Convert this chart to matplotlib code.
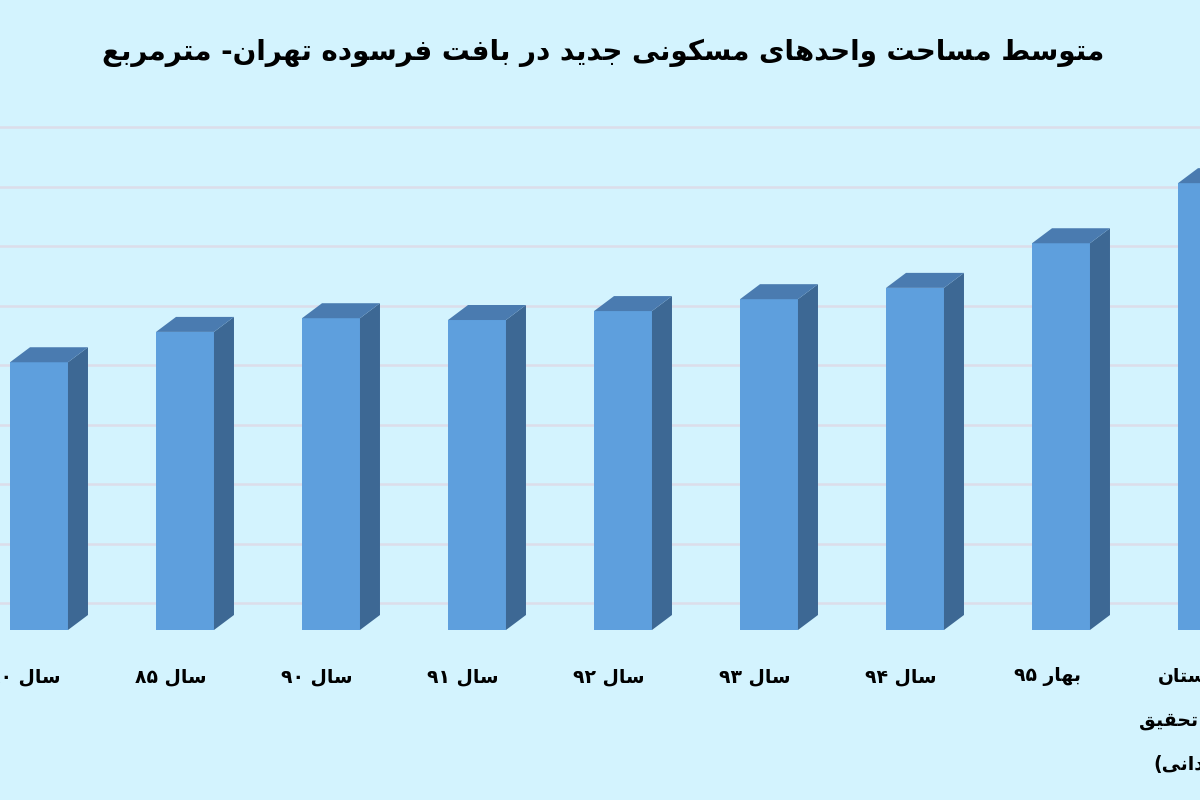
import re
import matplotlib
matplotlib.use('Agg')
import matplotlib.pyplot as plt
from matplotlib.patches import Polygon

# Data, average area in m2
labels = ['سال ۸۰', 'سال ۸۵', 'سال ۹۰', 'سال ۹۱', 'سال ۹۲', 'سال ۹۳', 'سال ۹۴', 'بهار ۹۵',
          'تابستان\nنتایج تحقیق\n(میدانی)']
values = [45.0, 50.1, 52.4, 52.1, 53.6, 55.6, 57.5, 65.0, 75.1]
grid_vals = [0, 10, 20, 30, 40, 50, 60, 70, 80]
title = 'متوسط مساحت واحدهای مسکونی جدید در بافت فرسوده تهران- مترمربع'

# minimal arabic/persian shaping: (isolated, final, initial, medial)
FORMS = {
    '\u0627': ('\uFE8D', '\uFE8E', None, None),
    '\u0628': ('\uFE8F', '\uFE90', '\uFE91', '\uFE92'),
    '\u062A': ('\uFE95', '\uFE96', '\uFE97', '\uFE98'),
    '\u062C': ('\uFE9D', '\uFE9E', '\uFE9F', '\uFEA0'),
    '\u062D': ('\uFEA1', '\uFEA2', '\uFEA3', '\uFEA4'),
    '\u062F': ('\uFEA9', '\uFEAA', None, None),
    '\u0631': ('\uFEAD', '\uFEAE', None, None),
    '\u0633': ('\uFEB1', '\uFEB2', '\uFEB3', '\uFEB4'),
    '\u0637': ('\uFEC1', '\uFEC2', '\uFEC3', '\uFEC4'),
    '\u0639': ('\uFEC9', '\uFECA', '\uFECB', '\uFECC'),
    '\u0641': ('\uFED1', '\uFED2', '\uFED3', '\uFED4'),
    '\u0642': ('\uFED5', '\uFED6', '\uFED7', '\uFED8'),
    '\u0644': ('\uFEDD', '\uFEDE', '\uFEDF', '\uFEE0'),
    '\u0645': ('\uFEE1', '\uFEE2', '\uFEE3', '\uFEE4'),
    '\u0646': ('\uFEE5', '\uFEE6', '\uFEE7', '\uFEE8'),
    '\u0647': ('\uFEE9', '\uFEEA', '\uFEEB', '\uFEEC'),
    '\u0648': ('\uFEED', '\uFEEE', None, None),
    '\u06CC': ('\uFBFC', '\uFBFD', '\uFBFE', '\uFBFF'),
    '\u06A9': ('\uFB8E', '\uFB8F', '\uFB90', '\uFB91'),
}


def shape(s):
    out = []
    for i, c in enumerate(s):
        if c not in FORMS:
            out.append(c)
            continue
        prev = s[i - 1] if i > 0 else None
        nxt = s[i + 1] if i + 1 < len(s) else None
        jp = prev in FORMS and FORMS[prev][2] is not None
        jn = nxt in FORMS and FORMS[c][2] is not None
        iso, fin, ini, med = FORMS[c]
        if jp and jn:
            out.append(med)
        elif jp:
            out.append(fin)
        elif jn:
            out.append(ini)
        else:
            out.append(iso)
    return ''.join(out)


def rtl(text):
    lines = []
    for line in text.split('\n'):
        runs = re.findall(r'[0-9\u06F0-\u06F9]+|[^0-9\u06F0-\u06F9]', shape(line))
        mirror = {'(': ')', ')': '('}
        lines.append(''.join(mirror.get(r, r) for r in runs[::-1]))
    return '\n'.join(lines)


bg = '#D3F3FE'
front = '#5E9FDD'
side = '#3D6894'
top = '#4A7BB0'
gridc = '#DCDDEA'

plt.rcParams['font.family'] = ['DejaVu Sans']
fig = plt.figure(figsize=(12, 8), dpi=100, facecolor=bg)
# axes spans full width; the chart is cropped at both sides like the reference
ax = fig.add_axes([0, 170 / 800, 1, 530 / 800])
ax.set_facecolor(bg)

px_per_unit = 5.95
w = 0.397
dx = 20 / 146
dy = 15 / px_per_unit
wall_dy = 27 / px_per_unit

x = list(range(len(values)))
for g in grid_vals:
    ax.axhline(g + wall_dy, color=gridc, lw=1.8, zorder=0)

ax.bar(x, values, width=w, color=front, zorder=2)
for xi, v in zip(x, values):
    xl, xr = xi - w / 2, xi + w / 2
    ax.add_patch(Polygon([(xr, 0), (xr + dx, dy), (xr + dx, v + dy), (xr, v)],
                         closed=True, facecolor=side, edgecolor='none', zorder=2))
    ax.add_patch(Polygon([(xl, v), (xr, v), (xr + dx, v + dy), (xl + dx, v + dy)],
                         closed=True, facecolor=top, edgecolor='none', zorder=2))

for xi, lab in zip(x, labels):
    ax.text(xi - 0.095, -37 / px_per_unit, rtl(lab), ha='center', va='top',
            fontsize=13.5, fontweight='bold', linespacing=2.65,
            transform=ax.transData, clip_on=False)

ax.set_xlim(-39 / 146, (1200 - 39) / 146)
ax.set_ylim(0, 530 / px_per_unit)
ax.axis('off')

fig.text(0.503, 1 - 53 / 800, rtl(title), ha='center', va='center',
         fontsize=20, fontweight='bold')

fig.savefig('out.png', dpi=100, facecolor=bg)
